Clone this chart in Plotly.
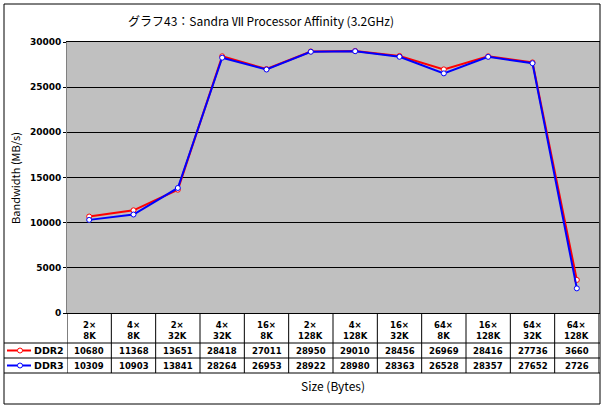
import plotly.graph_objects as go

# data
categories = ["2×<br>8K", "4×<br>8K", "2×<br>32K", "4×<br>32K", "16×<br>8K", "2×<br>128K",
              "4×<br>128K", "16×<br>32K", "64×<br>8K", "16×<br>128K", "64×<br>32K", "64×<br>128K"]
ddr2 = [10680, 11368, 13651, 28418, 27011, 28950, 29010, 28456, 26969, 28416, 27736, 3660]
ddr3 = [10309, 10903, 13841, 28264, 26953, 28922, 28980, 28363, 26528, 28357, 27652, 2726]
series = [("DDR2", ddr2, "#FF0000"), ("DDR3", ddr3, "#0000FF")]
y_ticks = [0, 5000, 10000, 15000, 20000, 25000, 30000]

W, H = 604, 408
PL, PR, PT, PB = 67, 599, 42, 313


def px(x):
    return (x - PL) / (PR - PL)


def py(y):
    return (PB - y) / (PB - PT)


fig = go.Figure()
xs = list(range(len(categories)))
for name, vals, col in series:
    fig.add_trace(go.Scatter(
        x=xs, y=vals, mode="lines+markers", name=name,
        line=dict(color=col, width=2),
        marker=dict(symbol="circle", size=5, color="white", line=dict(color=col, width=1)),
        showlegend=False,
    ))

shapes = []
ann = []
line_k = dict(color="black", width=1)

# outer border
shapes.append(dict(type="rect", xref="paper", yref="paper", x0=px(4), x1=px(600),
                   y0=py(404), y1=py(4), line=line_k))

# table grid
row_lines = [343, 358, 373]
for yl in row_lines:
    shapes.append(dict(type="line", xref="paper", yref="paper", x0=px(4), x1=px(600),
                       y0=py(yl), y1=py(yl), line=line_k))
for i in range(len(categories) + 1):
    shapes.append(dict(type="line", xref="x", yref="paper", x0=i - 0.5, x1=i - 0.5,
                       y0=py(PB), y1=py(373), line=line_k))

font_tbl = dict(family="DejaVu Sans", size=8.5, color="black")
for i, c in enumerate(categories):
    ann.append(dict(x=i, y=py(330), xref="x", yref="paper", text="<b>" + c + "</b>",
                    showarrow=False, font=font_tbl, xanchor="center", yanchor="middle"))

row_y = [350.5, 365.5]
for (name, vals, col), ry in zip(series, row_y):
    for i, v in enumerate(vals):
        ann.append(dict(x=i, y=py(ry), xref="x", yref="paper", text="<b>%d</b>" % v,
                        showarrow=False, font=font_tbl, xanchor="center", yanchor="middle"))
    # legend key
    shapes.append(dict(type="line", xref="paper", yref="paper", x0=px(7), x1=px(31),
                       y0=py(ry), y1=py(ry), line=dict(color=col, width=2)))
    shapes.append(dict(type="circle", xref="paper", yref="paper", x0=px(17.5), x1=px(22.5),
                       y0=py(ry + 2.5), y1=py(ry - 2.5), fillcolor="white",
                       line=dict(color=col, width=1)))
    ann.append(dict(x=px(32), y=py(ry), xref="paper", yref="paper", text="<b>" + name + "</b>",
                    showarrow=False, font=dict(family="DejaVu Sans", size=9.5, color="black"),
                    xanchor="left", yanchor="middle"))

# titles
ann.append(dict(x=px(261), y=py(21), xref="paper", yref="paper",
                text="グラフ43：Sandra Ⅶ Processor Affinity (3.2GHz)", showarrow=False,
                font=dict(family="Noto Sans CJK JP", size=12, color="black"),
                xanchor="center", yanchor="middle"))
ann.append(dict(x=px(333), y=py(385), xref="paper", yref="paper", text="Size (Bytes)",
                showarrow=False, font=dict(family="Noto Sans CJK JP", size=12, color="black"),
                xanchor="center", yanchor="middle"))
ann.append(dict(x=px(15), y=py(178), xref="paper", yref="paper", text="Bandwidth (MB/s)",
                showarrow=False, textangle=-90,
                font=dict(family="Noto Sans CJK JP", size=11, color="black"),
                xanchor="center", yanchor="middle"))

fig.update_layout(
    width=W, height=H,
    margin=dict(l=PL, r=W - PR, t=PT, b=H - PB),
    paper_bgcolor="white", plot_bgcolor="#C0C0C0",
    shapes=shapes, annotations=ann,
    xaxis=dict(range=[-0.5, len(categories) - 0.5], showticklabels=False, showgrid=False,
               zeroline=False, showline=True, linecolor="black", linewidth=1, mirror=True,
               ticks=""),
    yaxis=dict(range=[0, 30000], tickvals=y_ticks, ticktext=["<b>%d</b>" % t for t in y_ticks],
               showgrid=True, gridcolor="black", gridwidth=1, zeroline=False,
               showline=True, linecolor="#808080", linewidth=1, mirror=True,
               ticks="outside", ticklen=3, tickcolor="black",
               tickfont=dict(family="DejaVu Sans", size=9, color="black")),
)

fig.write_html("out.html", config={"displayModeBar": False},
               post_script="document.body.style.margin='0';")
